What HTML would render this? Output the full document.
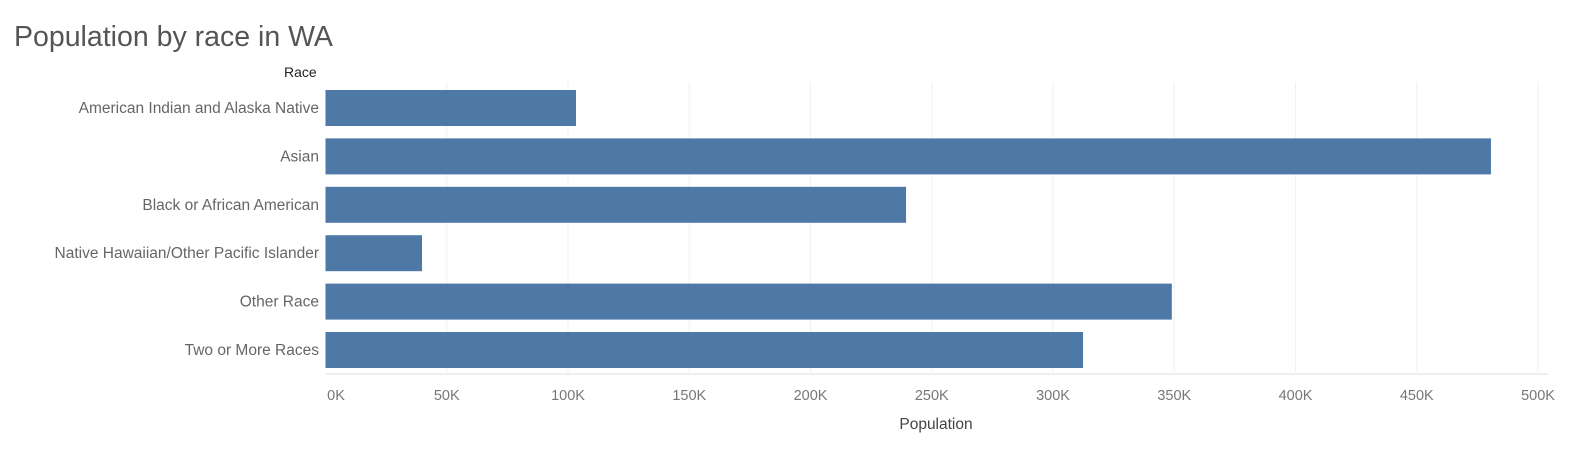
<!DOCTYPE html>
<html><head><meta charset="utf-8"><style>
body{margin:0;background:#fff;width:1579px;height:444px;overflow:hidden;font-family:"Liberation Sans",sans-serif}
</style></head><body>
<svg width="1579" height="444">
<text x="14" y="46" font-size="28.5" fill="#555">Population by race in WA</text>
<text x="284" y="77" font-size="14" fill="#222">Race</text>
<text x="936" y="429" font-size="15.5" fill="#444" text-anchor="middle">Population</text>
<g id="grid"></g><g id="bars"></g><g id="labels"></g><g id="ticks"></g>
<line x1="326" y1="374" x2="1548" y2="374" stroke="#ddd"/>
</svg>
<script>
const categories=["American Indian and Alaska Native","Asian","Black or African American","Native Hawaiian/Other Pacific Islander","Other Race","Two or More Races"];
const values=[103300,480600,239400,39800,349000,312400];
const tickValues=[0,50000,100000,150000,200000,250000,300000,350000,400000,450000,500000];
const tickLabels=["0K","50K","100K","150K","200K","250K","300K","350K","400K","450K","500K"];
const NS="http://www.w3.org/2000/svg";
const x=v=>325.5+v*242.5/100000;
const y=i=>90+i*48.4;
function mk(t,a,p){const e=document.createElementNS(NS,t);for(const k in a)e.setAttribute(k,a[k]);document.getElementById(p).appendChild(e);return e;}
tickValues.forEach((v,i)=>{
 if(i>0){const g=mk('line',{x1:x(v),x2:x(v),y1:82,y2:372,stroke:'#f0f0f0'},'grid');
 
 }
 const t=mk('text',{x:i==0?336:x(v),y:400,'font-size':14.5,fill:'#777','text-anchor':'middle'},'ticks');
 t.textContent=tickLabels[i];
 
 
});
categories.forEach((c,i)=>{
 const r=mk('rect',{x:x(0),y:y(i),width:x(values[i])-x(0),height:36,fill:'#4e79a7'},'bars');
 
 
 const t=mk('text',{x:319,y:y(i)+23,'font-size':15.5,fill:'#666','text-anchor':'end'},'labels');
 t.textContent=c;
 
 
});
</script>
</body></html>
